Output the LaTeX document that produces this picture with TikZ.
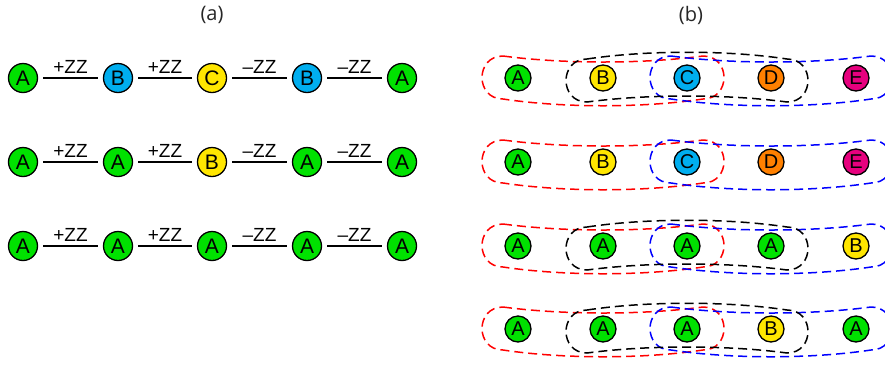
\documentclass[tikz,border=0pt]{standalone}
\usepackage{fontspec}
\newfontfamily\sitefont{Liberation Sans}
\newfontfamily\titlefont{Open Sans}
\usetikzlibrary{positioning}

\definecolor{qgreen}{RGB}{0,225,0}
\definecolor{qblue}{RGB}{0,174,239}
\definecolor{qyellow}{RGB}{255,230,0}
\definecolor{qorange}{RGB}{255,128,0}
\definecolor{qmagenta}{RGB}{230,0,126}

\tikzset{
  site/.style={circle, draw=black, line width=1.3pt, inner sep=0pt,
    minimum size=29pt, font=\sitefont\fontsize{21}{21}\selectfont},
  smallsite/.style={site, minimum size=26pt, font=\sitefont\fontsize{20}{20}\selectfont},
  bond/.style={line width=1.5pt, shorten <=5pt, shorten >=5pt},
  bondlabel/.style={font=\sitefont\fontsize{19}{19}\selectfont},
  group/.style={line width=1.5pt, dash pattern=on 9pt off 5pt},
  sag/.pic={\draw[group] (-100,-22) .. controls (-40,-14) and (40,-14) .. (100,-22)
      .. controls (128,-22) and (128,21) .. (100,21)
      .. controls (40,30) and (-40,30) .. (-100,21)
      .. controls (-128,21) and (-128,-22) .. cycle;},
  arch/.pic={\draw[group] (-100,-19) .. controls (-40,-28) and (40,-28) .. (100,-19)
      .. controls (128,-19) and (128,24) .. (100,24)
      .. controls (40,16) and (-40,16) .. (-100,24)
      .. controls (-128,24) and (-128,-19) .. cycle;},
}

\begin{document}
\begin{tikzpicture}[x=1pt,y=-1pt]
  \useasboundingbox (0,0) rectangle (885,365);

  \node[font=\titlefont\fontsize{20}{20}\selectfont, text=black!85] at (212,15) (ta) {(a)};
  \node[font=\titlefont\fontsize{20}{20}\selectfont, text=black!85] at (691,15) (tb) {(b)};

  % (a) chains with ZZ couplings
  \foreach \r/\y/\la/\ca/\lb/\cb/\lc/\cc/\ld/\cd/\le/\ce in {
      1/78/A/qgreen/B/qblue/C/qyellow/B/qblue/A/qgreen,
      2/162/A/qgreen/A/qgreen/B/qyellow/A/qgreen/A/qgreen,
      3/246/A/qgreen/A/qgreen/A/qgreen/A/qgreen/A/qgreen} {
    \node[site, fill=\ca] at (23,\y) (a\r1) {\la};
    \node[site, fill=\cb] at (118,\y) (a\r2) {\lb};
    \node[site, fill=\cc] at (212,\y) (a\r3) {\lc};
    \node[site, fill=\cd] at (307,\y) (a\r4) {\ld};
    \node[site, fill=\ce] at (402,\y) (a\r5) {\le};
    \draw[bond] (a\r1) -- node[bondlabel, above=0pt] {+ZZ} (a\r2);
    \draw[bond] (a\r2) -- node[bondlabel, above=0pt] {+ZZ} (a\r3);
    \draw[bond] (a\r3) -- node[bondlabel, above=0pt] {–ZZ} (a\r4);
    \draw[bond] (a\r4) -- node[bondlabel, above=0pt] {–ZZ} (a\r5);
  }

  % (b) chains with overlapping groups
  \foreach \r/\y/\la/\ca/\lb/\cb/\lc/\cc/\ld/\cd/\le/\ce in {
      1/78/A/qgreen/B/qyellow/C/qblue/D/qorange/E/qmagenta,
      2/162/A/qgreen/B/qyellow/C/qblue/D/qorange/E/qmagenta,
      3/246/A/qgreen/A/qgreen/A/qgreen/A/qgreen/B/qyellow,
      4/329/A/qgreen/A/qgreen/A/qgreen/B/qyellow/A/qgreen} {
    \node[smallsite, fill=\ca] at (518,\y) (b\r1) {\la};
    \node[smallsite, fill=\cb] at (603,\y) (b\r2) {\lb};
    \node[smallsite, fill=\cc] at (687,\y) (b\r3) {\lc};
    \node[smallsite, fill=\cd] at (771,\y) (b\r4) {\ld};
    \node[smallsite, fill=\ce] at (856,\y) (b\r5) {\le};
    \pic[red] at (b\r2) {sag};
    \pic[blue] at (b\r4) {sag};
  }
  \foreach \r in {1,3,4} {
    \pic[black] at (b\r3) {arch};
  }
\end{tikzpicture}
\end{document}
